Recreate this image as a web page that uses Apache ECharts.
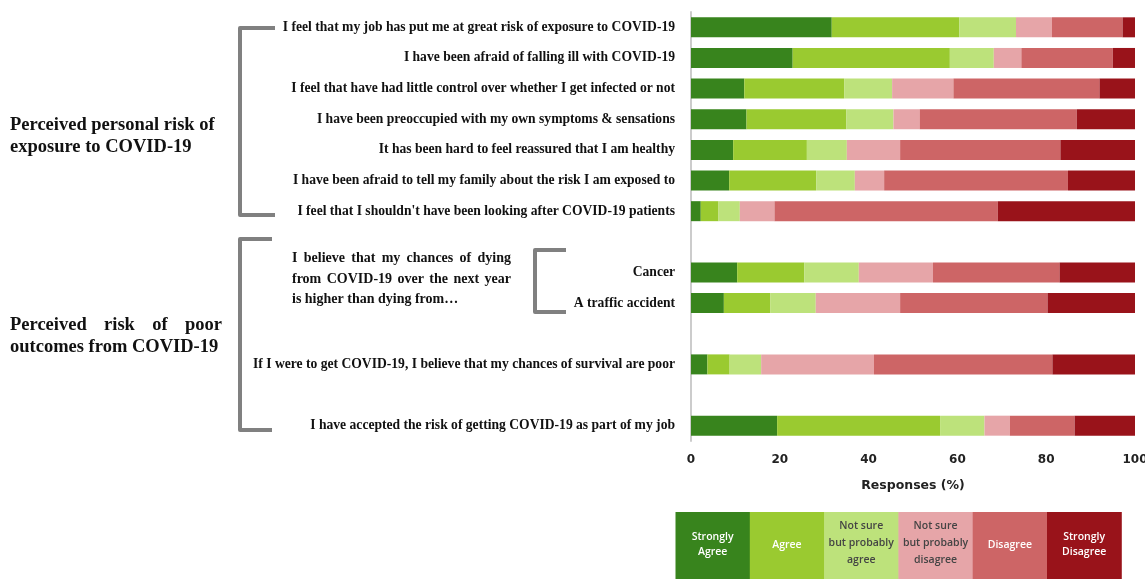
<!DOCTYPE html>
<html>
<head>
<meta charset="utf-8">
<script src="https://cdn.jsdelivr.net/npm/echarts@6/dist/echarts.min.js"></script>
<style>
  html, body { margin: 0; padding: 0; background: #fff; }
  #main { width: 1145px; height: 579px; }
</style>
</head>
<body>
<div id="main"></div>
<script>
// 题目（空字符串 = 空行）
var categories = [
  'I feel that my job has put me at great risk of exposure to COVID-19',
  'I have been afraid of falling ill with COVID-19',
  'I feel that have had little control over whether I get infected or not',
  'I have been preoccupied with my own symptoms & sensations',
  'It has been hard to feel reassured that I am healthy',
  'I have been afraid to tell my family about the risk I am exposed to',
  "I feel that I shouldn't have been looking after COVID-19 patients",
  '',
  'Cancer',
  'A traffic accident',
  '',
  'If I were to get COVID-19, I believe that my chances of survival are poor',
  '',
  'I have accepted the risk of getting COVID-19 as part of my job'
];

var levelNames = ['Strongly Agree', 'Agree', 'Not sure but probably agree',
  'Not sure but probably disagree', 'Disagree', 'Strongly Disagree'];
var levelColors = ['#38841d', '#9aca30', '#bde27b', '#e6a5a8', '#cd6566', '#99131a'];

// 各等级百分比
var stronglyAgree    = [31.7, 22.9, 12.0, 12.5, 9.5, 8.6, 2.2, null, 10.4, 7.4, null, 3.7, null, 19.4];
var agree            = [28.7, 35.4, 22.5, 22.5, 16.6, 19.6, 4.0, null, 15.1, 10.5, null, 5.0, null, 36.7];
var notSureAgree     = [12.8, 9.9, 10.8, 10.6, 9.0, 8.7, 4.8, null, 12.3, 10.2, null, 7.1, null, 10.0];
var notSureDisagree  = [8.1, 6.2, 13.8, 5.9, 12.0, 6.6, 7.8, null, 16.7, 19.0, null, 25.4, null, 5.7];
var disagree         = [15.9, 20.6, 32.9, 35.4, 36.1, 41.4, 50.3, null, 28.5, 33.2, null, 40.2, null, 14.6];
var stronglyDisagree = [2.8, 5.0, 8.0, 13.1, 16.8, 15.1, 30.9, null, 17.0, 19.7, null, 18.6, null, 13.6];

var seriesValues = [stronglyAgree, agree, notSureAgree, notSureDisagree, disagree, stronglyDisagree];

// 图例里的文字（换行）
var legendLines = [
  ['Strongly', 'Agree'], ['Agree'], ['Not sure', 'but probably', 'agree'],
  ['Not sure', 'but probably', 'disagree'], ['Disagree'], ['Strongly', 'Disagree']
];
var legendTextColors = ['#fff', '#fff', '#444', '#444', '#fff', '#fff'];

var serif = "'Liberation Serif', 'Times New Roman', serif";
var sans = "'DejaVu Sans', sans-serif";

// 两端对齐的文字：逐词摆放
var measureCtx = document.createElement('canvas').getContext('2d');
function justifyLine(text, x, y, width, font, last) {
  var words = text.split(' ');
  measureCtx.font = font;
  var total = 0;
  words.forEach(function (w) { total += measureCtx.measureText(w).width; });
  var gap = last ? measureCtx.measureText(' ').width : (width - total) / (words.length - 1);
  var out = [];
  var cx = x;
  words.forEach(function (w) {
    out.push({
      type: 'text', left: cx, top: y,
      style: { text: w, font: font, fill: '#111' }
    });
    cx += measureCtx.measureText(w).width + gap;
  });
  return out;
}

(function () {
  var myChart = echarts.init(document.getElementById('main'));

  var graphics = [];
  // 大括号
  function bracket(x, y1, y2, len) {
    graphics.push({
      type: 'polyline',
      shape: { points: [[x + len, y1], [x, y1], [x, y2], [x + len, y2]] },
      style: { stroke: '#808080', lineWidth: 4, fill: null, lineJoin: 'round' }
    });
  }
  bracket(240, 28, 215, 35);
  bracket(240, 239, 430, 32);
  bracket(535, 250, 312, 31);

  // 分组标题
  var groupFont = 'bold 18.5px ' + serif;
  graphics.push({ type: 'text', left: 10, top: 116, style: { text: 'Perceived personal risk of', font: groupFont, fill: '#111' } });
  graphics.push({ type: 'text', left: 10, top: 138, style: { text: 'exposure to COVID-19', font: groupFont, fill: '#111' } });
  graphics = graphics.concat(justifyLine('Perceived risk of poor', 10, 316, 212, groupFont, false));
  graphics.push({ type: 'text', left: 10, top: 338, style: { text: 'outcomes from COVID-19', font: groupFont, fill: '#111' } });

  // 子问题
  var subFont = 'bold 14px ' + serif;
  graphics = graphics.concat(justifyLine('I believe that my chances of dying', 292, 251, 219, subFont, false));
  graphics = graphics.concat(justifyLine('from COVID-19 over the next year', 292, 272, 219, subFont, false));
  graphics = graphics.concat(justifyLine('is higher than dying from\u2026', 292, 292, 219, subFont, true));

  // 底部色块图例
  var boxW = 74.3, boxX = 675.5, boxY = 512;
  legendLines.forEach(function (lines, i) {
    graphics.push({
      type: 'rect',
      shape: { x: boxX + i * boxW, y: boxY, width: boxW + 0.5, height: 70 },
      style: { fill: levelColors[i] }
    });
    graphics.push({
      type: 'text',
      x: boxX + i * boxW + boxW / 2,
      y: lines.length === 3 ? 543 : 545,
      style: {
        text: lines.join('\n'),
        font: '600 10.5px ' + "'Open Sans', sans-serif",
        fill: legendTextColors[i],
        align: 'center',
        verticalAlign: 'middle',
        lineHeight: lines.length === 3 ? 17 : 15
      }
    });
  });

  var series = levelNames.map(function (name, i) {
    return {
      name: name,
      type: 'bar',
      stack: 'total',
      barWidth: 20,
      itemStyle: { color: levelColors[i] },
      data: seriesValues[i]
    };
  });

  var option = {
    animation: false,
    grid: { left: 691, right: 10, top: 12, bottom: 138, outerBoundsMode: 'none' },
    xAxis: {
      type: 'value',
      min: 0,
      max: 100,
      interval: 20,
      name: 'Responses (%)',
      nameLocation: 'middle',
      nameGap: 38,
      nameTextStyle: { fontFamily: sans, fontWeight: 'bold', fontSize: 12.5, color: '#222' },
      axisLine: { show: false },
      axisTick: { show: false },
      splitLine: { show: false },
      axisLabel: { fontFamily: sans, fontWeight: 'bold', fontSize: 12, color: '#222', margin: 13 }
    },
    yAxis: {
      type: 'category',
      inverse: true,
      data: categories,
      axisTick: { show: false },
      axisLine: { show: true, lineStyle: { color: '#cccccc', width: 2 } },
      axisLabel: { fontFamily: serif, fontWeight: 'bold', fontSize: 13.6, color: '#111', margin: 16 }
    },
    series: series,
    graphic: graphics
  };

  myChart.setOption(option);
  window.addEventListener('resize', function () {
    myChart.resize();
  });
})();
</script>
</body>
</html>
